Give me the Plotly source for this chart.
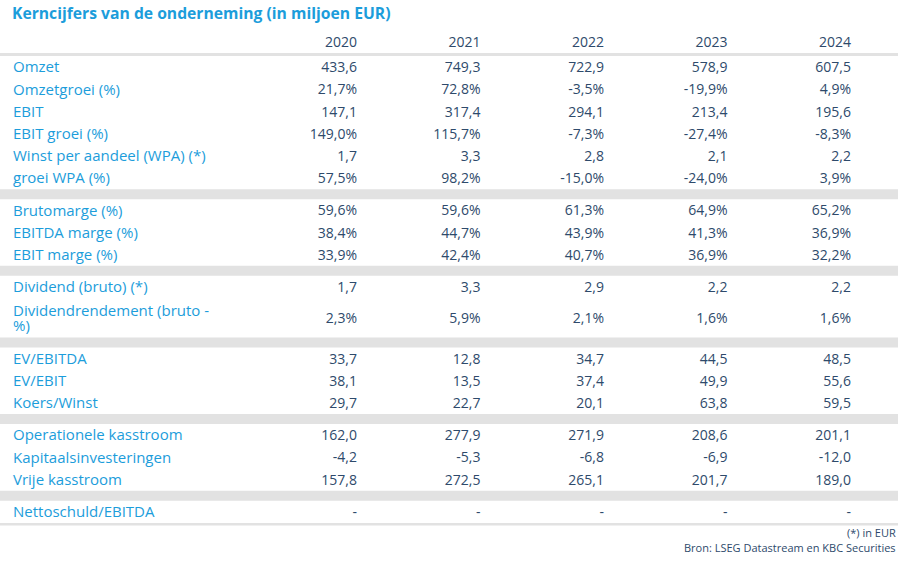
import plotly.graph_objects as go

# ── data ─────────────────────────────────────────────────────────────────────
TITLE = "Kerncijfers van de onderneming (in miljoen EUR)"
years = ["2020", "2021", "2022", "2023", "2024"]

row_labels = [
    "Omzet", "Omzetgroei (%)", "EBIT", "EBIT groei (%)",
    "Winst per aandeel (WPA) (*)", "groei WPA (%)",
    "Brutomarge (%)", "EBITDA marge (%)", "EBIT marge (%)",
    "Dividend (bruto) (*)", "Dividendrendement (bruto -<br>%)",
    "EV/EBITDA", "EV/EBIT", "Koers/Winst",
    "Operationele kasstroom", "Kapitaalsinvesteringen", "Vrije kasstroom",
    "Nettoschuld/EBITDA",
]
group_sizes = [6, 3, 2, 3, 3, 1]
pct_rows = [1, 3, 5, 6, 7, 8, 10]

v2020 = [433.6, 21.7, 147.1, 149.0, 1.7, 57.5, 59.6, 38.4, 33.9, 1.7, 2.3,
         33.7, 38.1, 29.7, 162.0, -4.2, 157.8, None]
v2021 = [749.3, 72.8, 317.4, 115.7, 3.3, 98.2, 59.6, 44.7, 42.4, 3.3, 5.9,
         12.8, 13.5, 22.7, 277.9, -5.3, 272.5, None]
v2022 = [722.9, -3.5, 294.1, -7.3, 2.8, -15.0, 61.3, 43.9, 40.7, 2.9, 2.1,
         34.7, 37.4, 20.1, 271.9, -6.8, 265.1, None]
v2023 = [578.9, -19.9, 213.4, -27.4, 2.1, -24.0, 64.9, 41.3, 36.9, 2.2, 1.6,
         44.5, 49.9, 63.8, 208.6, -6.9, 201.7, None]
v2024 = [607.5, 4.9, 195.6, -8.3, 2.2, 3.9, 65.2, 36.9, 32.2, 2.2, 1.6,
         48.5, 55.6, 59.5, 201.1, -12.0, 189.0, None]
columns = [v2020, v2021, v2022, v2023, v2024]

footnotes = ["(*) in EUR", "Bron: LSEG Datastream en KBC Securities"]

# ── layout constants (page pixels) ───────────────────────────────────────────
W, H = 918, 570
FONT = "Open Sans"
BLUE = "#1c9ddb"
NAVY = "#2e4a6b"
GREY = "#e2e2e2"
TABLE_L, TABLE_R = 0, 898
LABEL_X = 13
COL_RIGHT0, COL_STEP = 357, 123.5
HEADER_Y = 43
ROW_TOP = 56
ROW_H = 22.2
ROW_H2 = 39.5
LINE_GAP = 15         # line spacing inside a wrapped label
BAND_H = 10
TEXT_DY = 1.5         # optical nudge: plotly centres the text box, not the glyphs


def fmt(v, pct):
    if v is None:
        return "-"
    s = f"{v:.1f}".replace(".", ",")
    return s + "%" if pct else s


# row centres + band positions, walked group by group
row_y = []
bands = []
label_x, label_y, label_txt = [], [], []
y = ROW_TOP
idx = 0
for g, n in enumerate(group_sizes):
    for _ in range(n):
        lines = row_labels[idx].split("<br>")
        h = ROW_H if len(lines) == 1 else ROW_H2
        yc = y + h / 2
        row_y.append(yc + TEXT_DY)
        for k, ln in enumerate(lines):
            label_x.append(LABEL_X)
            label_y.append(yc + TEXT_DY + (k - (len(lines) - 1) / 2) * LINE_GAP)
            label_txt.append(ln)
        y += h
        idx += 1
    if g < len(group_sizes) - 1:
        bands.append((y, y + BAND_H))
        y += BAND_H
table_bottom = y

fig = go.Figure()

fig.add_trace(go.Scatter(
    x=label_x, y=label_y, text=label_txt,
    mode="text", textposition="middle right",
    textfont=dict(family=FONT, size=15, color=BLUE),
    hoverinfo="skip", showlegend=False,
))

for i, (yr, col) in enumerate(zip(years, columns)):
    cx = COL_RIGHT0 + i * COL_STEP
    fig.add_trace(go.Scatter(
        x=[cx] * (len(col) + 1), y=[HEADER_Y] + row_y,
        text=[yr] + [fmt(v, r in pct_rows) for r, v in enumerate(col)],
        mode="text", textposition="middle left",
        textfont=dict(family=FONT, size=14, color=NAVY),
        hoverinfo="skip", showlegend=False,
    ))

shapes = [dict(type="rect", x0=TABLE_L, x1=TABLE_R, y0=b0, y1=b1,
               fillcolor=GREY, line_width=0, layer="below") for b0, b1 in bands]
shapes.append(dict(type="rect", x0=TABLE_L, x1=TABLE_R, y0=ROW_TOP - 3, y1=ROW_TOP,
                   fillcolor=GREY, line_width=0, layer="below"))
shapes.append(dict(type="rect", x0=TABLE_L, x1=TABLE_R, y0=table_bottom,
                   y1=table_bottom + 2.5, fillcolor=GREY, line_width=0, layer="below"))

annotations = [
    dict(x=TABLE_R, y=table_bottom + 10 + k * 15, xref="x", yref="y",
         text=t, showarrow=False, xanchor="right", yanchor="middle",
         font=dict(family=FONT, size=11, color=NAVY))
    for k, t in enumerate(footnotes)
]

fig.update_layout(
    width=W, height=H,
    margin=dict(l=0, r=0, t=0, b=0),
    paper_bgcolor="white", plot_bgcolor="white",
    title=dict(text=f"<b>{TITLE}</b>", x=12 / W, xanchor="left",
               y=1 - 14 / H, yanchor="middle",
               font=dict(family=FONT, size=15.7, color=BLUE)),
    xaxis=dict(range=[0, W], visible=False, fixedrange=True),
    yaxis=dict(range=[H, 0], visible=False, fixedrange=True),
    shapes=shapes, annotations=annotations,
)

# drop the browser's default 8px body margin so the figure sits at the page corner
fig.write_html("out.html", config={"displayModeBar": False},
               post_script="document.body.style.margin = '0px';")
